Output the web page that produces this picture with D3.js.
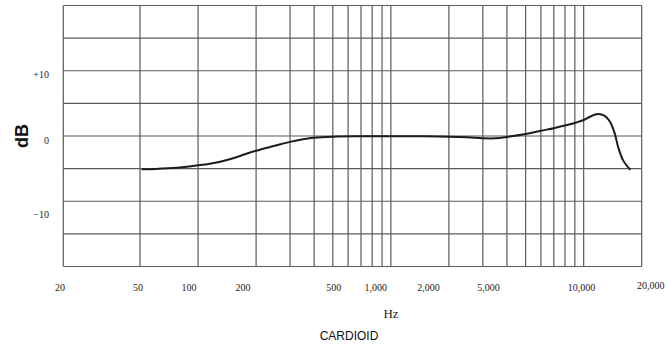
<!DOCTYPE html>
<html>
<head>
<meta charset="utf-8">
<script src="https://cdn.jsdelivr.net/npm/d3@7/dist/d3.min.js"></script>
<style>
  html, body { margin: 0; padding: 0; background: #fff; }
  svg { display: block; }
</style>
</head>
<body>
<svg id="chart" width="667" height="345"></svg>
<script>
// ---- data ----
const freqHz = [51, 60, 70, 85, 100, 125, 152, 175, 200, 250, 300, 350, 400, 500, 700, 1000, 1500, 2000, 2500, 3000, 3500, 4000, 5000, 6000, 7000, 8000, 9000, 10000, 10800, 11640, 12500, 13200, 13800, 14490, 15070, 16000, 17470];
const responseDb = [-5.1, -5.05, -4.95, -4.75, -4.5, -4.05, -3.4, -2.8, -2.25, -1.5, -0.9, -0.5, -0.25, -0.1, -0.05, -0.05, -0.05, -0.1, -0.2, -0.35, -0.35, -0.15, 0.3, 0.8, 1.2, 1.6, 2.0, 2.45, 2.95, 3.35, 3.25, 2.8, 2.0, 0.4, -1.6, -3.7, -5.2];

const xGridHz = [20, 50, 100, 200, 300, 400, 500, 600, 700, 800, 900, 1000, 2000, 3000, 4000, 5000, 6000, 7000, 8000, 9000, 10000, 20000];
const yGridDb = [-20, -15, -10, -5, 0, 5, 10, 15, 20];

const xTickLabels = ["20", "50", "100", "200", "500", "1,000", "2,000", "5,000", "10,000", "20,000"];
const xTickLabelHz = [19.2, 48.8, 89.7, 171, 506, 836, 1568, 3208, 9735, 22270];

const yTickLabels = ["+10", "0", "\u221210"];
const yTickLabelDb = [10, 0, -10];

const yAxisTitle = "dB";
const xAxisTitle = "Hz";
const patternTitle = "CARDIOID";

// ---- layout ----
const svg = d3.select("#chart");
const plot = { left: 63.3, right: 641.7, top: 5.5, bottom: 266.5 };

const x = d3.scaleLog().domain([20, 20000]).range([plot.left, plot.right]);
const y = d3.scaleLinear().domain([-20, 20]).range([plot.bottom, plot.top]);

const gridColor = "#5a5a5a";

// grid
svg.append("g").selectAll("line.v").data(xGridHz).join("line")
  .attr("x1", d => x(d)).attr("x2", d => x(d))
  .attr("y1", plot.top).attr("y2", plot.bottom)
  .attr("stroke", gridColor).attr("stroke-width", 1.2);

svg.append("g").selectAll("line.h").data(yGridDb).join("line")
  .attr("x1", plot.left).attr("x2", plot.right)
  .attr("y1", d => y(d)).attr("y2", d => y(d))
  .attr("stroke", gridColor).attr("stroke-width", 1.2);

// curve
const pts = freqHz.map((f, i) => [f, responseDb[i]]);
const line = d3.line().x(d => x(d[0])).y(d => y(d[1])).curve(d3.curveCatmullRom.alpha(0.5));
svg.append("path").datum(pts)
  .attr("d", line)
  .attr("fill", "none")
  .attr("stroke", "#1c1c1c")
  .attr("stroke-width", 2)
  .attr("stroke-linecap", "butt");

// x tick labels
svg.append("g").selectAll("text").data(xTickLabels).join("text")
  .attr("x", (d, i) => x(xTickLabelHz[i]))
  .attr("y", (d, i) => i === xTickLabels.length - 1 ? 289 : 290.5)
  .attr("text-anchor", "middle")
  .attr("font-family", "'Liberation Serif', 'Times New Roman', serif")
  .attr("font-size", 10)
  .attr("fill", "#222")
  .text(d => d);

// y tick labels
svg.append("g").selectAll("text").data(yTickLabels).join("text")
  .attr("x", 49)
  .attr("y", (d, i) => y(yTickLabelDb[i]) + (yTickLabelDb[i] < 0 ? 17 : 7.5))
  .attr("text-anchor", "end")
  .attr("font-family", "'Liberation Serif', 'Times New Roman', serif")
  .attr("font-size", 10)
  .attr("fill", "#222")
  .text(d => d);

// axis titles
svg.append("text")
  .attr("transform", `translate(28, ${y(0)}) rotate(-90)`)
  .attr("text-anchor", "middle")
  .attr("font-family", "'Liberation Sans', Arial, sans-serif")
  .attr("font-weight", "bold")
  .attr("font-size", 18)
  .attr("fill", "#111")
  .text(yAxisTitle);

svg.append("text")
  .attr("x", 391).attr("y", 318)
  .attr("text-anchor", "middle")
  .attr("font-family", "'Liberation Serif', 'Times New Roman', serif")
  .attr("font-size", 13)
  .attr("fill", "#222")
  .text(xAxisTitle);

svg.append("text")
  .attr("x", 349).attr("y", 340)
  .attr("text-anchor", "middle")
  .attr("font-family", "'Liberation Sans', Arial, sans-serif")
  .attr("font-size", 12)
  .attr("fill", "#111")
  .text(patternTitle);
</script>
</body>
</html>
